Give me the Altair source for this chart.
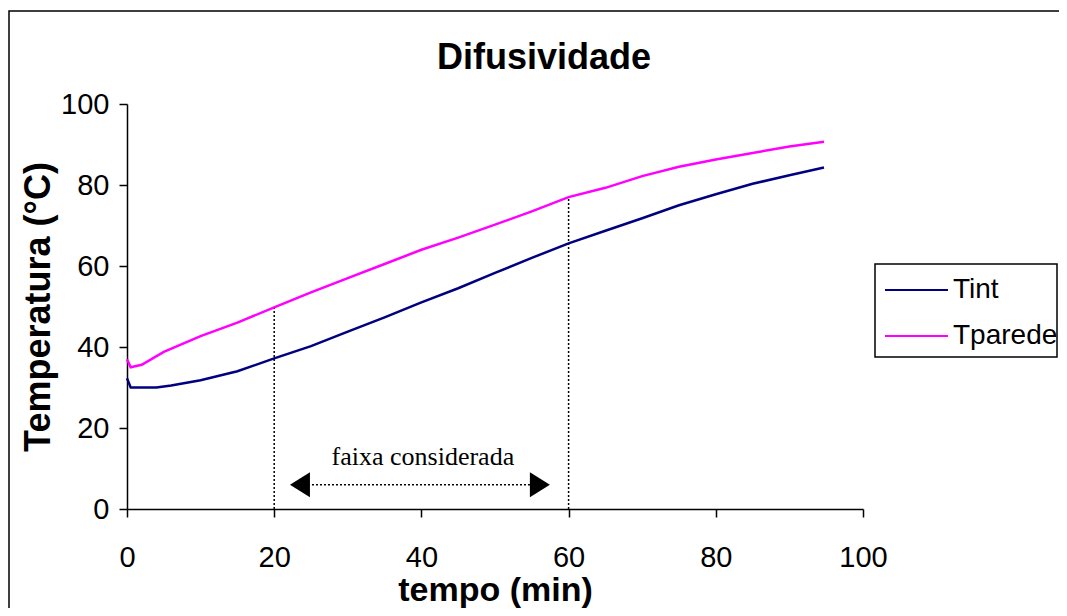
import altair as alt
import pandas as pd

# ---- data ----
tempo_tint = [0, 0.5, 2, 4, 6, 10, 15, 20, 25, 30, 35, 40, 45, 50, 55, 60, 65, 70, 75, 80, 85, 90, 94.7]
tint = [32.3, 30.0, 30.0, 30.0, 30.5, 31.8, 34.0, 37.2, 40.2, 43.8, 47.3, 51.0, 54.5, 58.3, 62.0, 65.6,
        68.7, 71.8, 75.0, 77.7, 80.3, 82.4, 84.3]

tempo_tparede = [0, 0.5, 2, 5, 10, 15, 20, 25, 30, 35, 40, 45, 50, 55, 60, 65, 70, 75, 80, 85, 90, 94.7]
tparede = [37.0, 35.0, 35.6, 38.8, 42.7, 46.0, 49.8, 53.5, 57.0, 60.5, 64.0, 67.0, 70.2, 73.5, 77.0,
           79.3, 82.2, 84.5, 86.3, 87.9, 89.5, 90.7]

series_names = ["Tint", "Tparede"]
series_colors = ["#000080", "#FF00FF"]

marker_x = [20, 60]
marker_top = [50.0, 77.0]

arrow_head_x = [23.5, 56.1]
arrow_y = 6.0
range_label = "faixa considerada"
range_label_x = 40.2
range_label_y = 10.9

tick_values = [0, 20, 40, 60, 80, 100]
chart_title = "Difusividade"

FONT = "Liberation Sans"

df = pd.concat([
    pd.DataFrame({"tempo": tempo_tint, "temp": tint, "serie": "Tint"}),
    pd.DataFrame({"tempo": tempo_tparede, "temp": tparede, "serie": "Tparede"}),
])

xs = alt.Scale(domain=[0, 100], nice=False, zero=True)
ys = alt.Scale(domain=[0, 100], nice=False, zero=True)

x_axis = alt.Axis(title="tempo (min)", values=tick_values, labelPadding=26, titlePadding=1,
                  titleFontSize=34, labelFlush=False)
y_axis = alt.Axis(title="Temperatura (°C)", values=tick_values, labelPadding=10, titlePadding=3,
                  titleFontSize=36, labelFlush=False)

lines = alt.Chart(df).mark_line(strokeWidth=2.5).encode(
    x=alt.X("tempo:Q", scale=xs, axis=x_axis),
    y=alt.Y("temp:Q", scale=ys, axis=y_axis),
    color=alt.Color("serie:N", scale=alt.Scale(domain=series_names, range=series_colors), legend=None),
    detail="serie:N",
)

markers_df = pd.DataFrame({"x": marker_x, "y0": [0, 0], "y1": marker_top})
markers = alt.Chart(markers_df).mark_rule(color="black", strokeWidth=1.5, strokeDash=[2, 2]).encode(
    x=alt.X("x:Q", scale=xs), y=alt.Y("y0:Q", scale=ys), y2="y1:Q"
)

arrow_line_df = pd.DataFrame({"x0": [arrow_head_x[0]], "x1": [arrow_head_x[1]], "y": [arrow_y]})
arrow_line = alt.Chart(arrow_line_df).mark_rule(color="black", strokeWidth=1.5, strokeDash=[2, 2]).encode(
    x=alt.X("x0:Q", scale=xs), x2="x1:Q", y=alt.Y("y:Q", scale=ys)
)

heads_df = pd.DataFrame({"x": arrow_head_x, "y": [arrow_y, arrow_y], "side": ["l", "r"]})
head_left = alt.Chart(heads_df[heads_df.side == "l"]).mark_point(
    shape="M 1 -1.25 L -1 0 L 1 1.25 Z", filled=True, color="black", opacity=1, size=400
).encode(x=alt.X("x:Q", scale=xs), y=alt.Y("y:Q", scale=ys))
head_right = alt.Chart(heads_df[heads_df.side == "r"]).mark_point(
    shape="M -1 -1.25 L 1 0 L -1 1.25 Z", filled=True, color="black", opacity=1, size=400
).encode(x=alt.X("x:Q", scale=xs), y=alt.Y("y:Q", scale=ys))

label_df = pd.DataFrame({"x": [range_label_x], "y": [range_label_y], "t": [range_label]})
label = alt.Chart(label_df).mark_text(
    font="Liberation Serif", fontSize=26, color="black", baseline="alphabetic", align="center"
).encode(x=alt.X("x:Q", scale=xs), y=alt.Y("y:Q", scale=ys), text="t:N")

one = pd.DataFrame({"a": [0]})

# chart title (centred on the whole chart area, like the original)
title_mark = alt.Chart(pd.DataFrame({"t": [chart_title]})).mark_text(
    font=FONT, fontSize=36, fontWeight="bold", color="black", align="center", baseline="alphabetic"
).encode(x=alt.value(417), y=alt.value(-35), text="t:N")

# outer chart frame
frame = alt.Chart(one).mark_rect(filled=False, stroke="black", strokeWidth=1.5).encode(
    x=alt.value(-118), x2=alt.value(1000), y=alt.value(-93), y2=alt.value(600)
)

# legend (boxed)
leg_box = alt.Chart(one).mark_rect(filled=False, stroke="black", strokeWidth=1.5).encode(
    x=alt.value(748), x2=alt.value(930), y=alt.value(160), y2=alt.value(253)
)
leg_layers = []
for i, (name, col) in enumerate(zip(series_names, series_colors)):
    yy = 186 + 46 * i
    leg_layers.append(alt.Chart(one).mark_rule(color=col, strokeWidth=2).encode(
        x=alt.value(758), x2=alt.value(821), y=alt.value(yy)))
    leg_layers.append(alt.Chart(pd.DataFrame({"t": [name]})).mark_text(
        font=FONT, fontSize=28, color="black", align="left", baseline="middle").encode(
        x=alt.value(826), y=alt.value(yy), text="t:N"))

chart = alt.layer(
    frame, title_mark, markers, arrow_line, head_left, head_right, label, lines, leg_box, *leg_layers
).properties(
    width=736, height=405,
    background="white",
    autosize=alt.AutoSizeParams(type="none"),
    padding={"left": 119, "top": 96, "right": 196, "bottom": 99},
).configure_view(stroke=None).configure_axis(
    grid=False, domainColor="black", domainWidth=1.5, tickColor="black", tickWidth=1.5, tickSize=8,
    labelFont=FONT, labelFontSize=29, labelColor="black", titleFont=FONT,
    titleFontWeight="bold", titleColor="black",
)

chart.save("out.html", embed_options={"renderer": "svg", "actions": False})
